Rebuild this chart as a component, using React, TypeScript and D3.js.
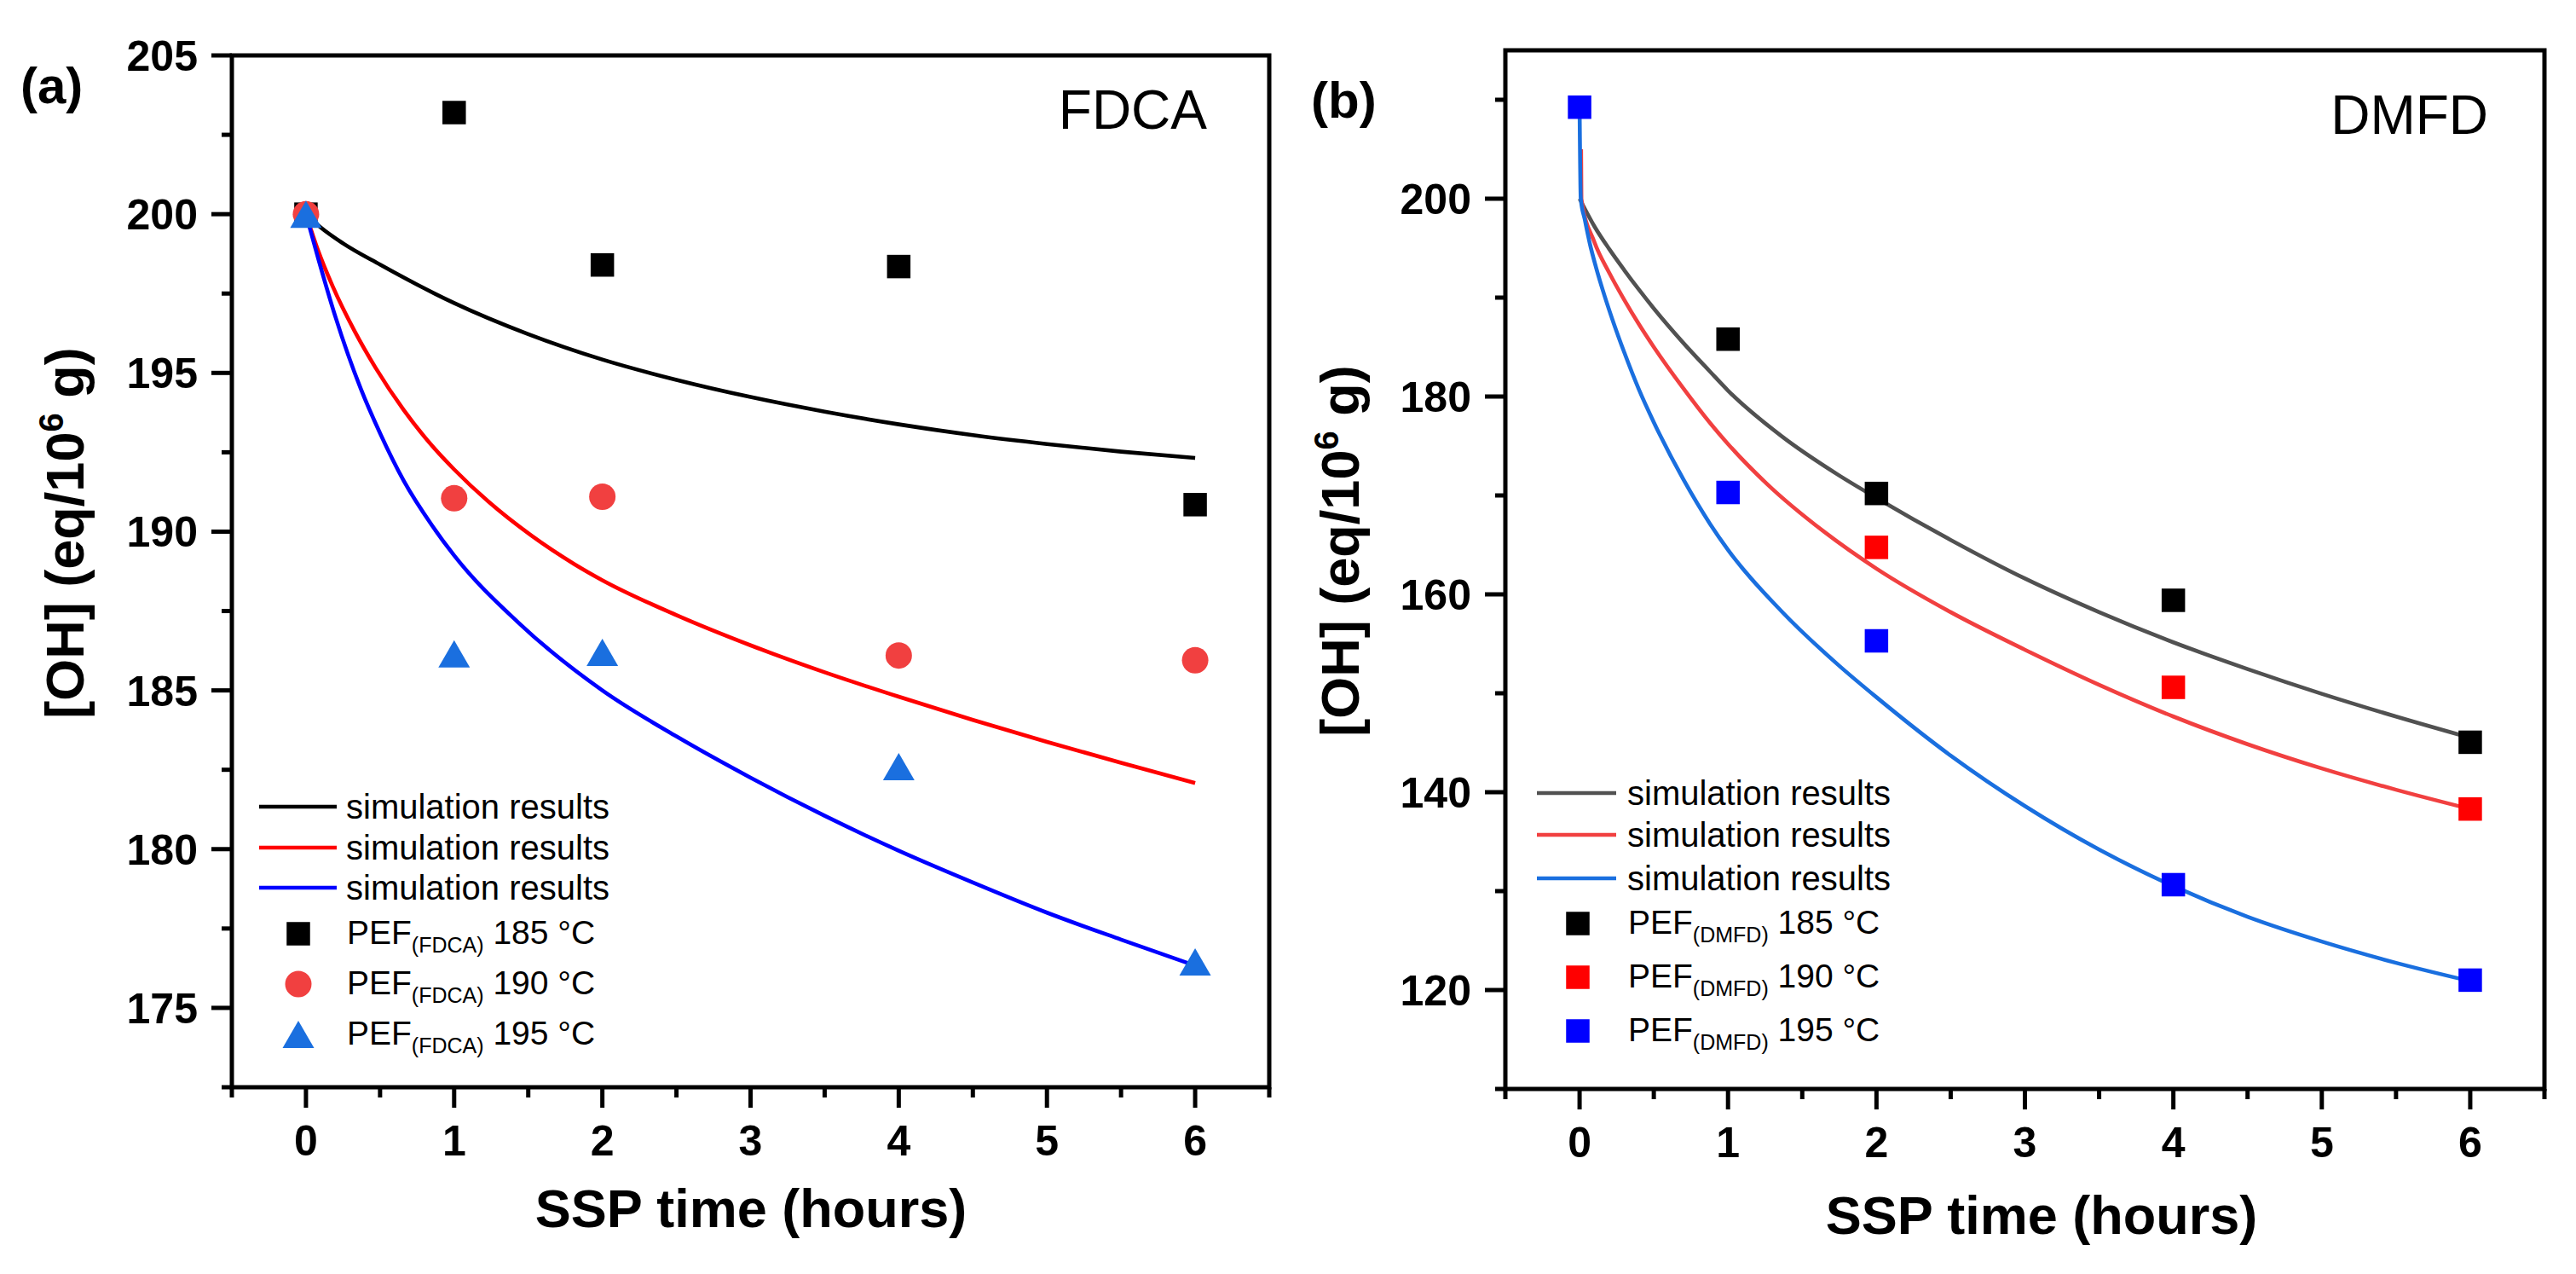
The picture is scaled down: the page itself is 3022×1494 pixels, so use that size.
import React from 'react';
import * as d3 from 'd3';

// SSP times where samples were measured
const hours = [0, 1, 2, 4, 6];
const xMajor = [0, 1, 2, 3, 4, 5, 6];
const xMinor = [-0.5, 0.5, 1.5, 2.5, 3.5, 4.5, 5.5, 6.5];

// (a) FDCA route, measured [OH]
const fdca185 = [200.0, 203.2, 198.4, 198.35, 190.85];
const fdca190 = [200.0, 191.05, 191.1, 186.1, 185.95];
const fdca195 = [200.0, 186.15, 186.2, 182.6, 176.45];

// (a) simulation results [t, OH]
const simA185: [number, number][] = [
  [0, 200], [0.1, 199.58], [0.25, 199.08], [0.5, 198.41], [0.75, 197.78], [1, 197.2],
  [1.5, 196.22], [2, 195.42], [2.5, 194.78], [3, 194.24], [3.5, 193.78], [4, 193.38],
  [4.5, 193.04], [5, 192.76], [5.5, 192.52], [6, 192.32],
];
const simA190: [number, number][] = [
  [0, 200], [0.08, 198.88], [0.18, 197.73], [0.33, 196.3], [0.47, 195.16], [0.66, 193.83],
  [0.85, 192.71], [1, 191.96], [1.23, 190.95], [1.52, 189.88], [1.81, 188.98], [2, 188.47],
  [2.5, 187.37], [3, 186.42], [3.5, 185.57], [4, 184.8], [4.5, 184.07], [5, 183.38],
  [5.5, 182.72], [6, 182.08],
];
const simA195: [number, number][] = [
  [0, 200], [0.083, 198.6], [0.2, 196.75], [0.37, 194.5], [0.5, 193.1], [0.66, 191.6],
  [0.85, 190.2], [1, 189.25], [1.43, 187.15], [2, 185.0], [2.5, 183.55], [3, 182.25],
  [3.5, 181.05], [4, 179.95], [4.5, 178.95], [5, 178.0], [5.5, 177.15], [6, 176.33],
];

// (b) DMFD route, measured [OH]
const dmfdHours185 = [1, 2, 4, 6];
const dmfd185 = [185.8, 170.2, 159.4, 145.05];
const dmfdHours190 = [2, 4, 6];
const dmfd190 = [164.75, 150.6, 138.3];
const dmfd195 = [209.25, 170.3, 155.3, 130.65, 121.0];

// (b) simulation results [t, OH]
const simB185: [number, number][] = [
  [0, 200], [0.1, 197.2], [0.2, 194.9], [0.3, 192.8], [0.4, 190.8], [0.5, 188.9],
  [0.7, 185.4], [0.88, 182.5], [1, 180.6], [1.36, 176.0], [1.74, 172.1], [2, 169.75],
  [2.5, 165.5], [3, 161.6], [3.5, 158.2], [4, 155.15], [4.5, 152.45], [5, 149.95],
  [5.5, 147.65], [6, 145.5],
];
const simB190: [number, number][] = [
  [0.01, 205], [0.012, 200], [0.1, 195.6], [0.2, 192.5], [0.3, 189.8], [0.4, 187.3],
  [0.5, 185.0], [0.7, 180.8], [0.88, 177.3], [1, 175.2], [1.26, 171.2], [1.65, 166.3],
  [2, 162.6], [2.5, 158.2], [3, 154.4], [3.5, 150.85], [4, 147.65], [4.5, 144.85],
  [5, 142.4], [5.5, 140.25], [6, 138.3],
];
const simB195: [number, number][] = [
  [0, 209.3], [0.008, 200], [0.035, 197.9], [0.07, 195.4], [0.11, 193.1], [0.17, 190.1],
  [0.23, 187.4], [0.3, 184.5], [0.4, 180.7], [0.5, 177.4], [0.7, 171.6], [0.88, 167.1],
  [1, 164.5], [1.36, 158.3], [1.74, 152.9], [2, 149.6], [2.5, 143.7], [3, 138.6],
  [3.5, 134.2], [4, 130.5], [4.5, 127.4], [5, 124.9], [5.5, 122.75], [6, 120.9],
];

const yMajorA = [175, 180, 185, 190, 195, 200, 205];
const yMinorA = [172.5, 177.5, 182.5, 187.5, 192.5, 197.5, 202.5];
const yMajorB = [120, 140, 160, 180, 200];
const yMinorB = [110, 130, 150, 170, 190, 210];

const FONT = '"Liberation Sans", Arial, Helvetica, sans-serif';

type Shape = 'square' | 'circle' | 'triangle';
interface Curve { pts: [number, number][]; color: string }
interface Markers { xs: number[]; ys: number[]; shape: Shape; color: string; temp: string }

interface PanelProps {
  left: number; right: number; top: number; bottom: number;
  yDomain: [number, number];
  yMajor: number[]; yMinor: number[];
  curves: Curve[]; markers: Markers[];
  tag: string; tagX: number; tagY: number;
  name: string; nameX: number; nameY: number;
  sub: string;
  yTitleX: number; yTitleY: number;
  xTitleX: number; xTitleY: number;
  legLineX: [number, number]; legLineY: number[];
  legSymX: number; legSymY: number[]; legTextX: number;
}

const symbol = (shape: Shape, cx: number, cy: number, color: string, key: string) => {
  if (shape === 'circle') return <circle key={key} cx={cx} cy={cy} r={15.5} fill={color} />;
  if (shape === 'triangle')
    return <path key={key} d={`M${cx},${cy - 16}L${cx + 18.5},${cy + 16}L${cx - 18.5},${cy + 16}Z`} fill={color} />;
  return <rect key={key} x={cx - 13.75} y={cy - 13.75} width={27.5} height={27.5} fill={color} />;
};

const Panel: React.FC<PanelProps> = (p) => {
  const x = d3.scaleLinear().domain([-0.5, 6.5]).range([p.left, p.right]);
  const y = d3.scaleLinear().domain(p.yDomain).range([p.bottom, p.top]);
  const line = d3.line<[number, number]>().x(d => x(d[0])).y(d => y(d[1])).curve(d3.curveMonotoneX);

  return (
    <g fontFamily={FONT}>
      {/* curves */}
      {p.curves.map((c, i) => (
        <path key={'c' + i} d={line(c.pts) || ''} fill="none" stroke={c.color} strokeWidth={4.6} strokeLinejoin="round" />
      ))}
      {/* data points */}
      {p.markers.map((m, i) => (
        <g key={'m' + i}>{m.xs.map((t, j) => symbol(m.shape, x(t), y(m.ys[j]), m.color, `${i}-${j}`))}</g>
      ))}

      {/* frame and ticks */}
      <rect x={p.left} y={p.top} width={p.right - p.left} height={p.bottom - p.top} fill="none" stroke="#000" strokeWidth={5} />
      {p.yMajor.map(v => (
        <g key={'ym' + v}>
          <line x1={p.left - 24} x2={p.left} y1={y(v)} y2={y(v)} stroke="#000" strokeWidth={5} />
          <text x={p.left - 40} y={y(v)} dy="0.36em" textAnchor="end" fontSize={50} fontWeight="bold">{v}</text>
        </g>
      ))}
      {p.yMinor.map(v => (
        <line key={'yn' + v} x1={p.left - 12} x2={p.left} y1={y(v)} y2={y(v)} stroke="#000" strokeWidth={5} />
      ))}
      {xMajor.map(v => (
        <g key={'xm' + v}>
          <line x1={x(v)} x2={x(v)} y1={p.bottom} y2={p.bottom + 24} stroke="#000" strokeWidth={5} />
          <text x={x(v)} y={p.bottom + 80} textAnchor="middle" fontSize={50} fontWeight="bold">{v}</text>
        </g>
      ))}
      {xMinor.map(v => (
        <line key={'xn' + v} x1={x(v)} x2={x(v)} y1={p.bottom} y2={p.bottom + 12} stroke="#000" strokeWidth={5} />
      ))}

      {/* titles */}
      <text x={p.xTitleX} y={p.xTitleY} textAnchor="middle" fontSize={63} fontWeight="bold">SSP time (hours)</text>
      <text transform={`translate(${p.yTitleX},${p.yTitleY}) rotate(-90)`} textAnchor="middle" fontSize={63} fontWeight="bold">
        [OH] (eq/10<tspan fontSize={40} dy={-24}>6</tspan><tspan dy={24}> g)</tspan>
      </text>
      <text x={p.tagX} y={p.tagY} fontSize={60} fontWeight="bold">{p.tag}</text>
      <text x={p.nameX} y={p.nameY} textAnchor="end" fontSize={64}>{p.name}</text>

      {/* legend */}
      {p.curves.map((c, i) => (
        <g key={'lc' + i}>
          <line x1={p.legLineX[0]} x2={p.legLineX[1]} y1={p.legLineY[i]} y2={p.legLineY[i]} stroke={c.color} strokeWidth={4.6} />
          <text x={p.legTextX} y={p.legLineY[i] + 14} fontSize={40}>simulation results</text>
        </g>
      ))}
      {p.markers.map((m, i) => (
        <g key={'lm' + i}>
          {symbol(m.shape, p.legSymX, p.legSymY[i], m.color, 'ls' + i)}
          <text x={p.legTextX + 1} y={p.legSymY[i] + 12} fontSize={39}>
            PEF<tspan fontSize={25} dy={10}>{p.sub}</tspan><tspan dy={-10}>{` ${m.temp} °C`}</tspan>
          </text>
        </g>
      ))}
    </g>
  );
};

export default function App() {
  return (
    <div style={{ position: 'absolute', left: 0, top: 0 }}>
      <svg width={3022} height={1494} viewBox="0 0 3022 1494" style={{ display: 'block', background: '#fff' }}>
        <Panel
          left={272} right={1489} top={65} bottom={1275}
          yDomain={[172.5, 205]} yMajor={yMajorA} yMinor={yMinorA}
          curves={[
            { pts: simA185, color: '#000000' },
            { pts: simA190, color: '#FF0000' },
            { pts: simA195, color: '#0000FF' },
          ]}
          markers={[
            { xs: hours, ys: fdca185, shape: 'square', color: '#000000', temp: '185' },
            { xs: hours, ys: fdca190, shape: 'circle', color: '#F14040', temp: '190' },
            { xs: hours, ys: fdca195, shape: 'triangle', color: '#1A6FDF', temp: '195' },
          ]}
          tag="(a)" tagX={24} tagY={121}
          name="FDCA" nameX={1416} nameY={151}
          sub="(FDCA)"
          yTitleX={98} yTitleY={625}
          xTitleX={881} xTitleY={1439}
          legLineX={[304, 395]} legLineY={[946, 994, 1041]}
          legSymX={350} legSymY={[1095, 1154, 1213]} legTextX={406}
        />
        <Panel
          left={1766} right={2985} top={59} bottom={1277}
          yDomain={[110, 215]} yMajor={yMajorB} yMinor={yMinorB}
          curves={[
            { pts: simB185, color: '#515151' },
            { pts: simB190, color: '#F14040' },
            { pts: simB195, color: '#1A6FDF' },
          ]}
          markers={[
            { xs: dmfdHours185, ys: dmfd185, shape: 'square', color: '#000000', temp: '185' },
            { xs: dmfdHours190, ys: dmfd190, shape: 'square', color: '#FF0000', temp: '190' },
            { xs: hours, ys: dmfd195, shape: 'square', color: '#0000FF', temp: '195' },
          ]}
          tag="(b)" tagX={1538} tagY={138}
          name="DMFD" nameX={2919} nameY={157}
          sub="(DMFD)"
          yTitleX={1594} yTitleY={646}
          xTitleX={2395} xTitleY={1447}
          legLineX={[1803, 1896]} legLineY={[930, 979, 1030]}
          legSymX={1851} legSymY={[1083, 1146, 1209]} legTextX={1909}
        />
      </svg>
    </div>
  );
}
